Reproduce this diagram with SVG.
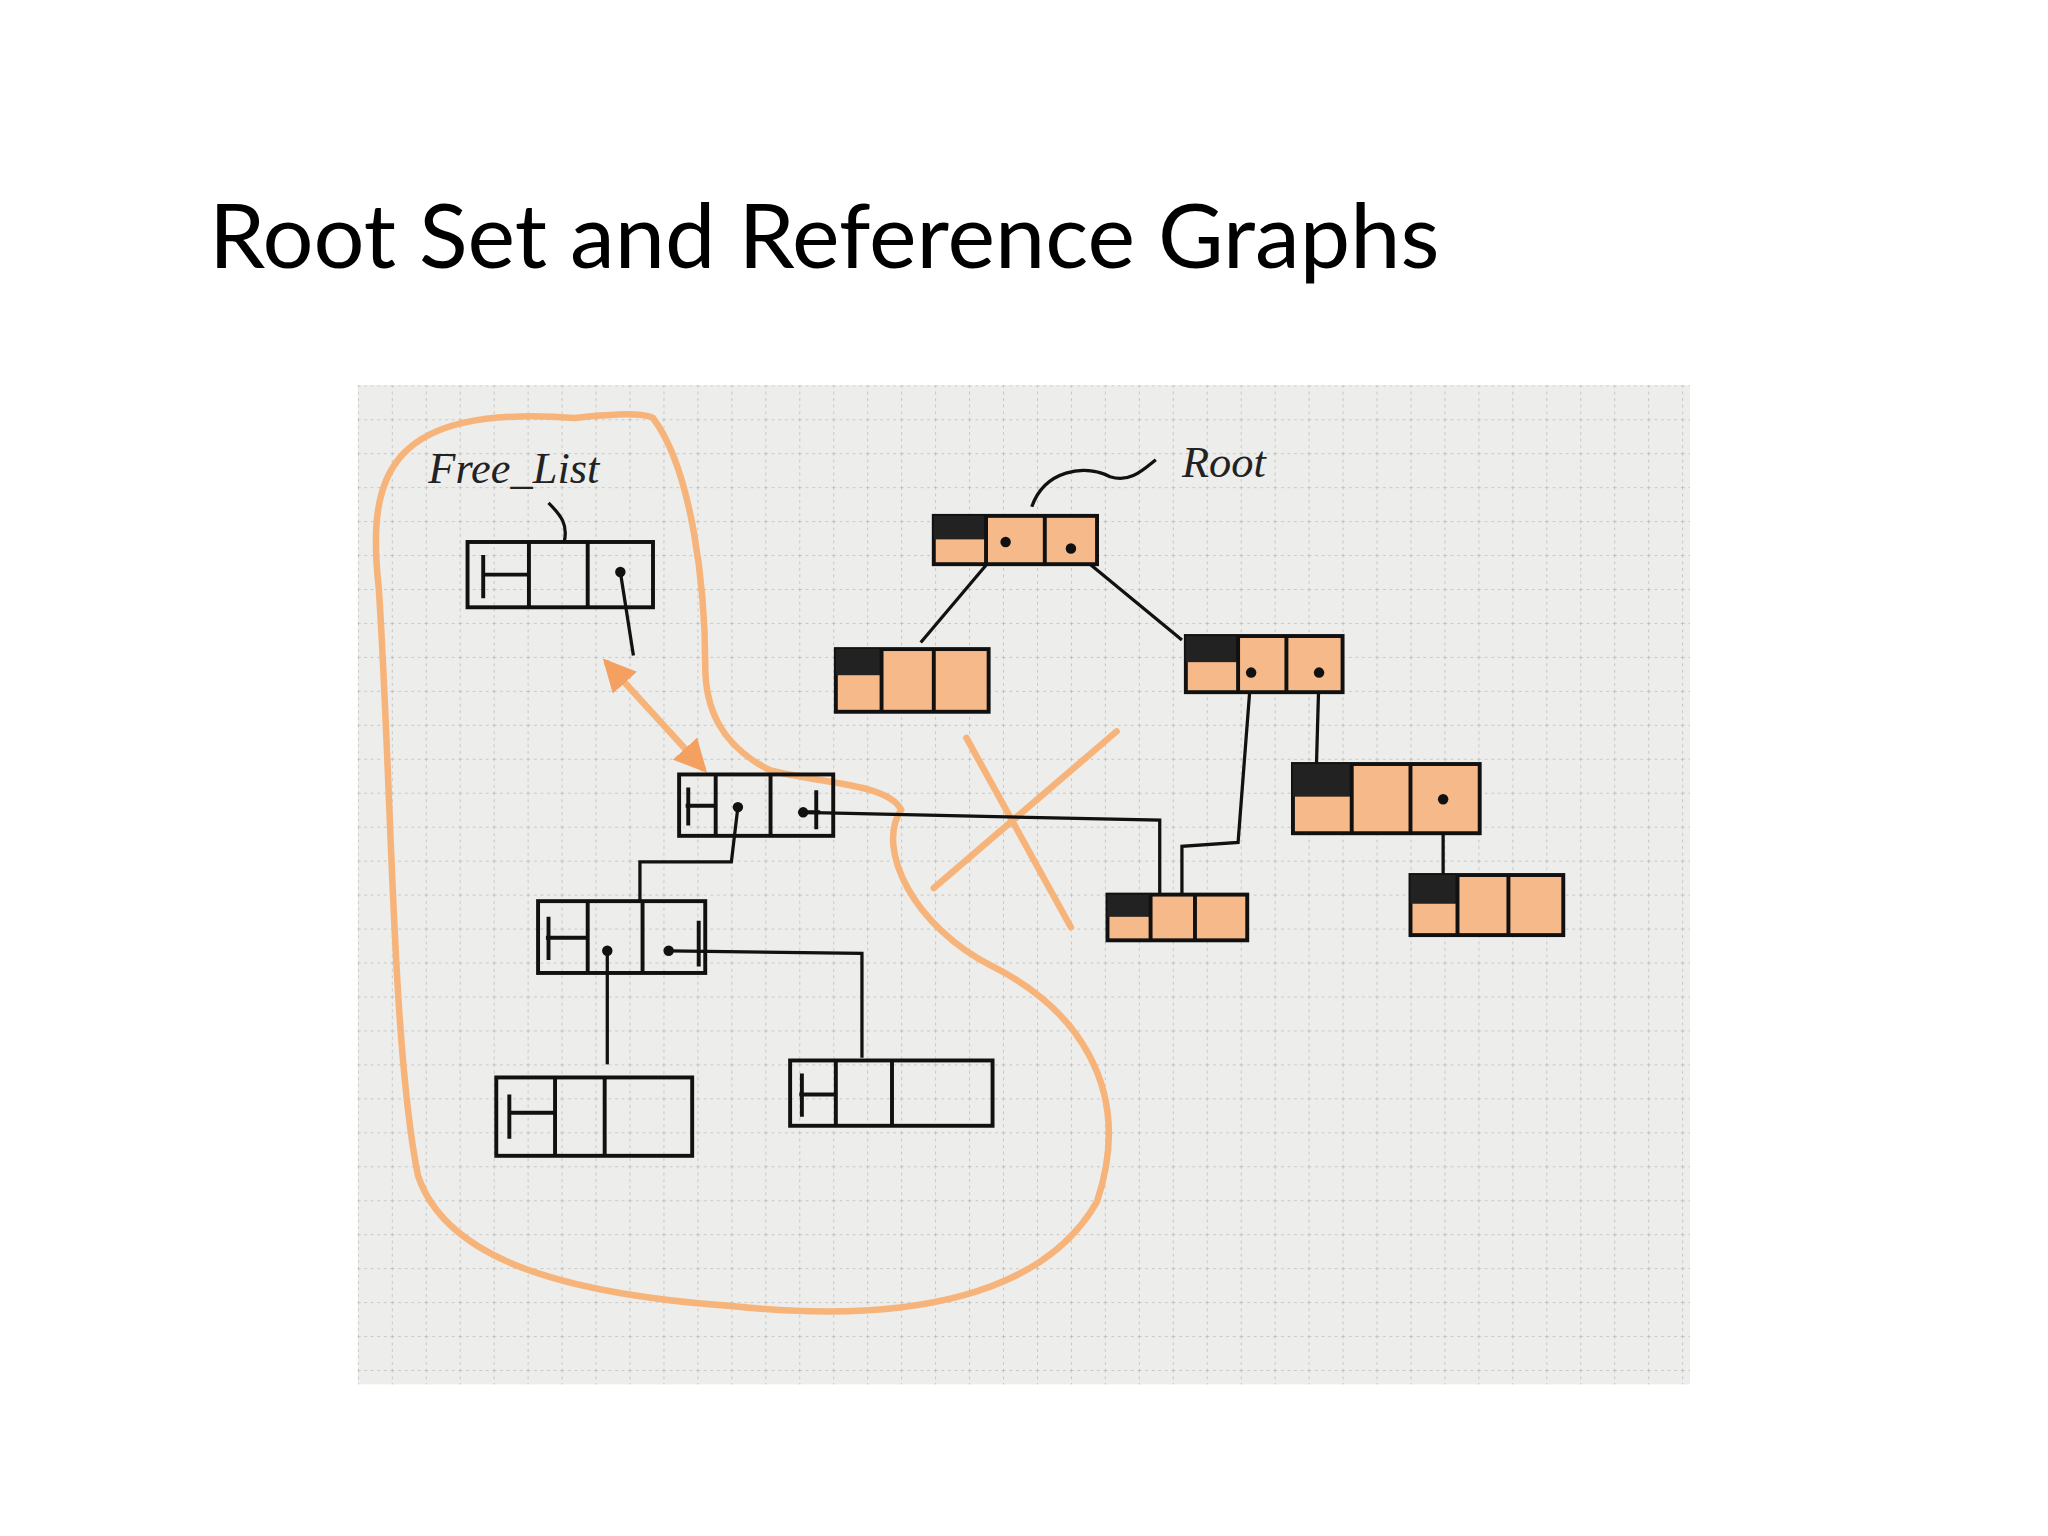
<svg xmlns="http://www.w3.org/2000/svg" width="2048" height="1536" viewBox="0 0 2048 1536">
<style>
.b{fill:none;stroke:#111;stroke-width:3}
.o{fill:#f6b98a;stroke:#111;stroke-width:3}
.h{fill:#222}
.c{fill:none;stroke:#111;stroke-width:2.5}
.d{fill:#111}
.hl{fill:none;stroke:#f7b47a;stroke-width:5;stroke-linecap:round}
.t{font-family:'Liberation Serif',serif;font-style:italic;font-size:34px;fill:#222}
</style>
<defs>
<pattern id="g" width="26" height="26" patternUnits="userSpaceOnUse" x="274" y="295">
<path d="M0 0H26M0 0V26" stroke="#b8b8b8" stroke-width="1.2" stroke-dasharray="2 3" fill="none"/>
</pattern>
<marker id="ah" viewBox="0 0 10 10" refX="8" refY="5" markerWidth="5" markerHeight="5" orient="auto-start-reverse"><path d="M0 0L10 5L0 10z" fill="#f4a060"/></marker>
</defs>
<rect width="2048" height="1536" fill="#fff"/>
<text x="209" y="268" font-family="Lato,'Open Sans',sans-serif" font-size="90" fill="#000">Root Set and Reference Graphs</text>
<g transform="scale(1.306)">
<rect x="274" y="295" width="1020" height="765" fill="#ededeb"/>
<rect x="274" y="295" width="1020" height="765" fill="url(#g)"/>
<path class="hl" d="M440 320 C300 310 280 360 290 450 C300 600 300 800 320 900 C340 960 420 990 560 1000 C700 1015 800 990 840 920 C870 830 820 770 760 740 C700 710 670 650 690 620 C680 600 630 600 590 590 C550 570 540 540 540 510 C540 450 530 360 500 320 C490 315 460 318 440 320 Z"/>
<path class="hl" d="M740 565 L820 710 M855 560 L715 680"/>
<path class="hl" d="M465 508 L538 588" marker-start="url(#ah)" marker-end="url(#ah)"/>
<text class="t" x="328" y="370">Free_List</text>
<text class="t" x="905" y="365">Root</text>
<g id="conn">
<path class="c" d="M790 388 C800 360 830 355 850 365 C865 370 875 360 885 352"/>
<path class="c" d="M420 385 C430 395 435 402 432 415"/>
<path class="c" d="M475 438 L485 502"/>
<path class="c" d="M770 415 L705 492"/>
<path class="c" d="M820 420 L905 490"/>
<path class="c" d="M958 515 L948 645 L905 648 L905 686"/>
<path class="c" d="M1010 515 L1008 586"/>
<path class="c" d="M1105 612 L1105 671"/>
<path class="c" d="M615 622 L888 628 L888 686"/>
<path class="c" d="M565 618 L560 660 L490 660 L490 690"/>
<path class="c" d="M465 728 L465 815"/>
<path class="c" d="M512 728 L660 730 L660 810"/>
</g>
<g id="freelist"><rect class="b" x="358" y="415" width="142" height="50"/><path class="b" d="M405 415V465M450 415V465M370 440H405M370 425V458"/><circle class="d" cx="475" cy="438" r="4"/></g>
<g id="root"><rect class="o" x="715" y="395" width="125" height="37"/><rect class="h" x="715" y="395" width="40" height="18"/><path class="b" d="M755 395V432M800 395V432"/><circle class="d" cx="770" cy="415" r="4"/><circle class="d" cx="820" cy="420" r="4"/></g>
<g id="nA"><rect class="o" x="640" y="497" width="117" height="48"/><rect class="h" x="640" y="497" width="35" height="20"/><path class="b" d="M675 497V545M715 497V545"/></g>
<g id="nB"><rect class="o" x="908" y="487" width="120" height="43"/><rect class="h" x="908" y="487" width="40" height="20"/><path class="b" d="M948 487V530M985 487V530"/><circle class="d" cx="958" cy="515" r="4"/><circle class="d" cx="1010" cy="515" r="4"/></g>
<g id="nC"><rect class="o" x="990" y="585" width="143" height="53"/><rect class="h" x="990" y="585" width="45" height="25"/><path class="b" d="M1035 585V638M1080 585V638"/><circle class="d" cx="1105" cy="612" r="4"/></g>
<g id="nD"><rect class="o" x="1080" y="670" width="117" height="46"/><rect class="h" x="1080" y="670" width="36" height="22"/><path class="b" d="M1116 670V716M1155 670V716"/></g>
<g id="nE"><rect class="o" x="848" y="685" width="107" height="35"/><rect class="h" x="848" y="685" width="33" height="17"/><path class="b" d="M881 685V720M915 685V720"/></g>
<g id="nF"><rect class="b" x="520" y="593" width="118" height="47"/><path class="b" d="M548 593V640M590 593V640M525 617H548M527 603V632M625 605V635M615 622H628"/><circle class="d" cx="565" cy="618" r="4"/><circle class="d" cx="615" cy="622" r="4"/></g>
<g id="nG"><rect class="b" x="412" y="690" width="128" height="55"/><path class="b" d="M450 690V745M492 690V745M418 718H450M420 702V735M535 705V740"/><circle class="d" cx="465" cy="728" r="4"/><circle class="d" cx="512" cy="728" r="4"/></g>
<g id="nH"><rect class="b" x="380" y="825" width="150" height="60"/><path class="b" d="M425 825V885M463 825V885M390 852H425M390 838V872"/></g>
<g id="nI"><rect class="b" x="605" y="812" width="155" height="50"/><path class="b" d="M640 812V862M683 812V862M612 838H640M614 822V855"/></g>
</g>
</svg>
